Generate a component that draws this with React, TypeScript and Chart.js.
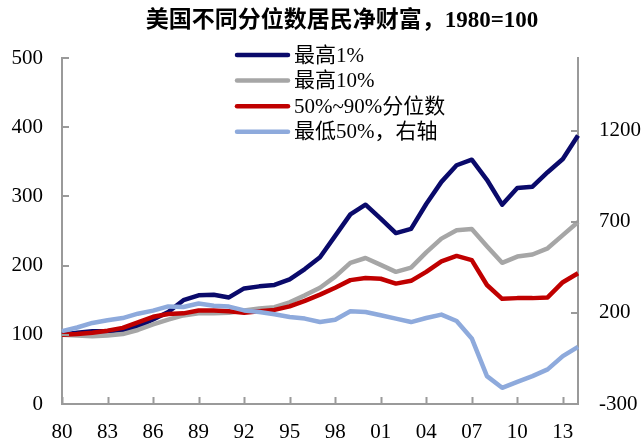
import React, { useEffect, useRef } from 'react';
import { Chart, registerables } from 'chart.js';

Chart.register(...registerables);

const yearLabels = [
  '80', '81', '82', '83', '84', '85', '86', '87', '88', '89',
  '90', '91', '92', '93', '94', '95', '96', '97', '98', '99',
  '00', '01', '02', '03', '04', '05', '06', '07', '08', '09',
  '10', '11', '12', '13', '14',
];

const top1 = [
  100, 103, 105, 105, 107, 112, 122, 133, 150, 157,
  158, 154, 167, 170, 172, 180, 195, 212, 243, 274,
  288, 268, 247, 253, 289, 321, 345, 353, 324, 288,
  312, 314, 335, 354, 388,
];

const top10 = [
  100, 99, 98, 99, 101, 107, 115, 122, 128, 131,
  131, 132, 135, 138, 140, 147, 157, 168, 184, 204,
  211, 201, 191, 197, 219, 239, 251, 253, 228, 204,
  213, 216, 225, 244, 263,
];

const mid50to90 = [
  100, 101, 103, 106, 110, 118, 126, 130, 131, 135,
  135, 134, 132, 134, 136, 141, 149, 158, 168, 179,
  182, 181, 174, 178, 191, 206, 214, 208, 172, 152,
  153, 153, 154, 176, 189,
];

const bottom50 = [
  100, 120, 145, 160, 172, 196, 213, 236, 233, 252,
  240, 235, 214, 205, 193, 178, 169, 150, 163, 209,
  205, 187, 169, 150, 172, 191, 156, 60, -147, -211,
  -178, -147, -110, -37, 14,
];

const seriesNames = ['最高1%', '最高10%', '50%~90%分位数', '最低50%，右轴'];
const seriesColors = ['#0a0a6b', '#a6a6a6', '#c00000', '#8eaadc'];
const titleText = '美国不同分位数居民净财富，1980=100';

const leftTicks = [0, 100, 200, 300, 400, 500];
const rightTicks = [-300, 200, 700, 1200];

const AXIS_COLOR = '#9a9a9a';
const SERIF = '"Liberation Serif", "Times New Roman", "Noto Sans CJK SC", serif';

const decorPlugin = {
  id: 'decor',
  afterDraw(chart: any) {
    const { ctx, chartArea } = chart;
    const xs = chart.scales.x;
    const ys = chart.scales.y;
    const ys1 = chart.scales.y1;
    ctx.save();
    // inward tick marks
    ctx.strokeStyle = AXIS_COLOR;
    ctx.lineWidth = 2;
    ctx.beginPath();
    yearLabels.forEach((_, i) => {
      if (i % 3 === 0) {
        const px = Math.round(xs.getPixelForValue(i)) + 0.5;
        ctx.moveTo(px, chartArea.bottom);
        ctx.lineTo(px, chartArea.bottom - 7);
      }
    });
    leftTicks.forEach((v) => {
      const py = Math.round(ys.getPixelForValue(v));
      ctx.moveTo(chartArea.left, py);
      ctx.lineTo(chartArea.left + 7, py);
    });
    rightTicks.forEach((v) => {
      const py = Math.round(ys1.getPixelForValue(v));
      ctx.moveTo(chartArea.right, py);
      ctx.lineTo(chartArea.right - 7, py);
    });
    ctx.stroke();

    // title
    ctx.fillStyle = '#000';
    ctx.font = `bold 23px ${SERIF}`;
    ctx.textAlign = 'center';
    ctx.textBaseline = 'middle';
    ctx.fillText(titleText, 342, 21);

    // legend
    ctx.font = `21px ${SERIF}`;
    ctx.textAlign = 'left';
    seriesNames.forEach((name, i) => {
      const ly = 55 + i * 25.6;
      ctx.strokeStyle = seriesColors[i];
      ctx.lineWidth = 4.5;
      ctx.lineCap = 'round';
      ctx.beginPath();
      ctx.moveTo(237, ly);
      ctx.lineTo(288, ly);
      ctx.stroke();
      ctx.fillStyle = '#000';
      ctx.fillText(name, 294, ly + 1);
    });
    ctx.restore();
  },
};

export default function App() {
  const ref = useRef<HTMLCanvasElement>(null);

  useEffect(() => {
    if (!ref.current) return;
    const seriesData = [top1, top10, mid50to90, bottom50];
    const chart = new Chart(ref.current, {
      type: 'line',
      data: {
        labels: yearLabels,
        datasets: seriesData.map((d, i) => ({
          label: seriesNames[i],
          data: d,
          borderColor: seriesColors[i],
          backgroundColor: seriesColors[i],
          borderWidth: 4.5,
          pointRadius: 0,
          tension: 0,
          fill: false,
          borderJoinStyle: 'round' as const,
          yAxisID: i === 3 ? 'y1' : 'y',
          order: 4 - i,
        })),
      },
      options: {
        responsive: false,
        animation: false,
        devicePixelRatio: 1,
        layout: { padding: { top: 58, left: 0, right: 0, bottom: 0 } },
        plugins: {
          legend: { display: false },
          title: { display: false },
          tooltip: { enabled: false },
        },
        scales: {
          x: {
            type: 'category',
            offset: false,
            grid: { display: false, drawTicks: false },
            border: { display: true, color: AXIS_COLOR, width: 2 },
            ticks: {
              autoSkip: false,
              maxRotation: 0,
              minRotation: 0,
              padding: 16,
              color: '#000',
              font: { family: SERIF, size: 21 },
              callback: (_v: any, i: number) => (i % 3 === 0 ? yearLabels[i] : ''),
            },
            afterFit: (s: any) => { s.height = 37; },
          },
          y: {
            position: 'left',
            min: 0,
            max: 500,
            grid: { display: false, drawTicks: false },
            border: { display: true, color: AXIS_COLOR, width: 2 },
            ticks: {
              stepSize: 100,
              padding: 19,
              color: '#000',
              font: { family: SERIF, size: 21 },
              callback: (v: any) => String(v),
            },
            afterBuildTicks: (s: any) => { s.ticks = leftTicks.map((v) => ({ value: v })); },
            afterFit: (s: any) => { s.width = 62; },
          },
          y1: {
            position: 'right',
            min: -300,
            max: 1600,
            grid: { display: false, drawTicks: false },
            border: { display: true, color: AXIS_COLOR, width: 2 },
            ticks: {
              stepSize: 500,
              padding: 21,
              color: '#000',
              font: { family: SERIF, size: 21 },
              callback: (v: any) => String(v),
            },
            afterBuildTicks: (s: any) => { s.ticks = rightTicks.map((v) => ({ value: v })); },
            afterFit: (s: any) => { s.width = 65; },
          },
        },
      },
      plugins: [decorPlugin],
    });
    return () => chart.destroy();
  }, []);

  return (
    <div style={{ position: 'fixed', left: 0, top: 0, width: 643, height: 441, background: '#fff' }}>
      <canvas ref={ref} width={643} height={441} style={{ width: 643, height: 441, display: 'block' }} />
    </div>
  );
}
